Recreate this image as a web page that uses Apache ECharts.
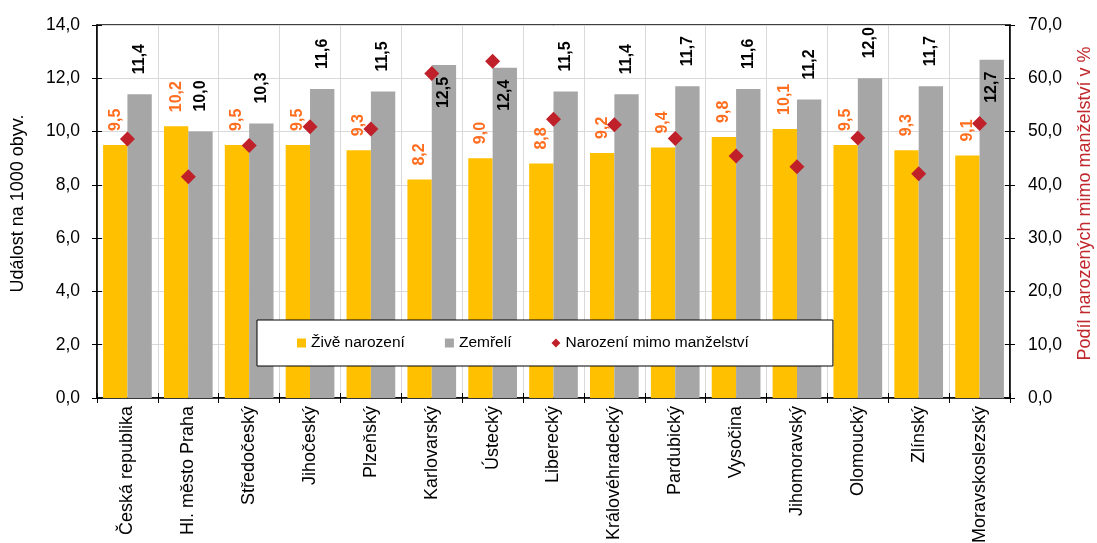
<!DOCTYPE html>
<html>
<head>
<meta charset="utf-8">
<script src="https://cdn.jsdelivr.net/npm/echarts@6/dist/echarts.min.js"></script>
<style>
html,body{margin:0;padding:0;background:#fff;}
#c{width:1097px;height:543px;}
</style>
</head>
<body>
<div id="c"></div>
<script>
var categories = ['Česká republika','Hl. město Praha','Středočeský','Jihočeský','Plzeňský','Karlovarský','Ústecký','Liberecký','Královéhradecký','Pardubický','Vysočina','Jihomoravský','Olomoucký','Zlínský','Moravskoslezský'];
var births = [9.5,10.2,9.5,9.5,9.3,8.2,9.0,8.8,9.2,9.4,9.8,10.1,9.5,9.3,9.1];
var deaths = [11.4,10.0,10.3,11.6,11.5,12.5,12.4,11.5,11.4,11.7,11.6,11.2,12.0,11.7,12.7];
var outOfWedlock = [48.6,41.5,47.4,50.9,50.5,60.9,63.2,52.3,51.3,48.7,45.4,43.4,48.8,42.1,51.5];
var leftTicks = {min:0, max:14, interval:2};
var rightTicks = {min:0, max:70, interval:10};

var FONT = '"Liberation Sans", Arial, sans-serif';
function comma(v){ return Number(v).toFixed(1).replace('.', ','); }

var deathData = deaths.map(function(v){
  if (v >= 12.3) {
    return {value:v, label:{position:'insideTop', align:'right', verticalAlign:'middle', distance:12}};
  }
  return v;
});

var chart = echarts.init(document.getElementById('c'), null, {renderer:'canvas'});
var axisLineStyle = {color:'#000', width:1.5};
chart.setOption({
  animation:false,
  textStyle:{fontFamily:FONT},
  grid:{left:97, right:87, top:25, bottom:145, containLabel:false, outerBoundsMode:'none',
    show:true, borderColor:'#000', borderWidth:1.5, backgroundColor:'transparent'},
  legend:{
    left:257, top:320,
    backgroundColor:'#fff', borderColor:'#000', borderWidth:1,
    padding:[15, 84, 15, 40],
    itemGap:40, itemWidth:9, itemHeight:9,
    textStyle:{fontFamily:FONT, fontSize:15.5, color:'#000'},
    data:[
      {name:'Živě narození', icon:'rect'},
      {name:'Zemřelí', icon:'rect'},
      {name:'Narození mimo manželství', icon:'diamond'}
    ]
  },
  xAxis:[{
    type:'category', data:categories, position:'bottom',
    axisLine:{lineStyle:axisLineStyle},
    axisTick:{show:true, interval:0, length:5, lineStyle:{color:'#000'}},
    axisLabel:{rotate:90, interval:0, fontSize:18, color:'#000', margin:8, fontFamily:FONT},
    splitLine:{show:true, interval:0, lineStyle:{color:'#D9D9D9', width:1}}
  },{
    type:'category', data:categories, position:'bottom',
    axisLine:{show:false},
    axisTick:{show:true, inside:true, interval:0, length:5, lineStyle:{color:'#000'}},
    axisLabel:{show:false}, splitLine:{show:false}
  }],
  yAxis:[{
    type:'value', position:'left', min:leftTicks.min, max:leftTicks.max, interval:leftTicks.interval,
    name:'Událost na 1000 obyv.', nameLocation:'middle', nameRotate:90, nameGap:70,
    nameTextStyle:{fontSize:18, color:'#000', fontFamily:FONT, padding:[0,0,0,16]},
    axisLine:{show:true, lineStyle:axisLineStyle},
    axisTick:{show:true, length:5, lineStyle:{color:'#000'}},
    axisLabel:{formatter:comma, fontSize:17.5, color:'#000', margin:17, fontFamily:FONT},
    splitLine:{show:true, lineStyle:{color:'#D9D9D9', width:1}}
  },{
    type:'value', position:'right', min:rightTicks.min, max:rightTicks.max, interval:rightTicks.interval,
    name:'Podíl narozených mimo manželství v %', nameLocation:'middle', nameRotate:90, nameGap:66,
    nameTextStyle:{fontSize:18, color:'#C0282D', fontFamily:FONT, padding:[0,0,0,16]},
    axisLine:{show:true, lineStyle:axisLineStyle},
    axisTick:{show:true, length:5, lineStyle:{color:'#000'}},
    axisLabel:{formatter:comma, fontSize:17.5, color:'#000', margin:18, fontFamily:FONT},
    splitLine:{show:false}
  },{
    type:'value', position:'left', min:leftTicks.min, max:leftTicks.max, interval:leftTicks.interval,
    axisLine:{show:false}, axisTick:{show:true, inside:true, length:5, lineStyle:{color:'#000'}},
    axisLabel:{show:false}, splitLine:{show:false}
  },{
    type:'value', position:'right', min:rightTicks.min, max:rightTicks.max, interval:rightTicks.interval,
    axisLine:{show:false}, axisTick:{show:true, inside:true, length:5, lineStyle:{color:'#000'}},
    axisLabel:{show:false}, splitLine:{show:false}
  }],
  series:[{
    name:'Živě narození', type:'bar', data:births, xAxisIndex:0, yAxisIndex:0,
    barGap:'0%', barCategoryGap:'20%',
    itemStyle:{color:'#FFC000'},
    label:{show:true, position:'top', rotate:90, align:'left', verticalAlign:'middle', distance:14,
      formatter:function(p){return comma(p.value);}, color:'#FF6D1F', fontWeight:'bold', fontSize:16, fontFamily:FONT}
  },{
    name:'Zemřelí', type:'bar', data:deathData, xAxisIndex:0, yAxisIndex:0,
    barGap:'0%', barCategoryGap:'20%',
    itemStyle:{color:'#A6A6A6'},
    label:{show:true, position:'top', rotate:90, align:'left', verticalAlign:'middle', distance:20,
      formatter:function(p){return comma(p.value);}, color:'#000', fontWeight:'bold', fontSize:16, fontFamily:FONT}
  },{
    name:'Narození mimo manželství', type:'scatter', data:outOfWedlock, xAxisIndex:0, yAxisIndex:1,
    symbol:'diamond', symbolSize:15, z:5,
    itemStyle:{color:'#C0202A', opacity:1}
  }]
});
</script>
</body>
</html>
